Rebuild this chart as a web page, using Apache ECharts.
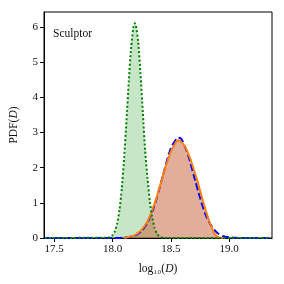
<!DOCTYPE html>
<html><head><meta charset="utf-8">
<script src="https://cdn.jsdelivr.net/npm/echarts@6/dist/echarts.min.js"></script>
<style>html,body{margin:0;padding:0;background:#fff}#c{width:284px;height:284px}</style>
</head><body><div id="c"></div>
<script>
var xTicks = [17.5, 18.0, 18.5, 19.0];
var yTicks = [0, 1, 2, 3, 4, 5, 6];
var label = 'Sculptor';

var greenX = [17.42, 17.96, 17.98, 18.00, 18.02, 18.04, 18.06, 18.08, 18.10, 18.12, 18.14, 18.16, 18.18, 18.19, 18.20, 18.22, 18.24, 18.26, 18.28, 18.30, 18.32, 18.34, 18.36, 18.38, 18.40, 18.42, 18.44, 19.35];
var greenY = [0, 0.01, 0.03, 0.08, 0.19, 0.41, 0.80, 1.42, 2.28, 3.35, 4.47, 5.43, 6.02, 6.11, 6.07, 5.59, 4.68, 3.57, 2.48, 1.70, 1.05, 0.60, 0.30, 0.13, 0.05, 0.02, 0, 0];

var blueX = [17.42, 18.05, 18.10, 18.15, 18.20, 18.25, 18.30, 18.35, 18.40, 18.45, 18.50, 18.55, 18.575, 18.60, 18.65, 18.70, 18.75, 18.80, 18.85, 18.90, 18.95, 19.00, 19.05, 19.10, 19.35];
var blueY = [0, 0, 0.01, 0.03, 0.08, 0.20, 0.44, 0.83, 1.38, 2.00, 2.55, 2.83, 2.85, 2.76, 2.35, 1.75, 1.15, 0.65, 0.33, 0.14, 0.05, 0.02, 0.005, 0, 0];

var orangeX = [18.10, 18.125, 18.15, 18.175, 18.20, 18.225, 18.25, 18.275, 18.30, 18.325, 18.35, 18.375, 18.40, 18.425, 18.45, 18.475, 18.50, 18.525, 18.55, 18.575, 18.60, 18.625, 18.65, 18.675, 18.70, 18.725, 18.75, 18.775, 18.80, 18.825, 18.85, 18.875, 18.90, 18.925, 18.95];
var orangeY = [0, 0.02, 0.04, 0.06, 0.10, 0.16, 0.24, 0.34, 0.48, 0.66, 0.88, 1.12, 1.40, 1.68, 1.98, 2.22, 2.46, 2.62, 2.75, 2.78, 2.70, 2.58, 2.40, 2.18, 1.92, 1.66, 1.36, 1.06, 0.78, 0.52, 0.30, 0.12, 0.04, 0.01, 0];

function pairs(xs, ys) { return xs.map(function (x, i) { return [x, ys[i]]; }); }

var FONT = 'Liberation Serif';
var chart = echarts.init(document.getElementById('c'), null, {renderer: 'canvas'});
chart.setOption({
  animation: false,
  grid: {left: 42, right: 12, top: 12, bottom: 46, show: true, borderColor: '#000', borderWidth: 1, backgroundColor: 'transparent'},
  xAxis: {
    type: 'value', min: 17.4124, max: 19.368,
    splitLine: {show: false},
    axisLine: {show: true, onZero: false, lineStyle: {color: '#000', width: 1}},
    axisTick: {show: true, length: 4, lineStyle: {color: '#000'}, customValues: xTicks},
    axisLabel: {color: '#111', fontFamily: FONT, fontSize: 11, margin: 6, customValues: xTicks,
      formatter: function (v) { return v.toFixed(1); }},
    name: '{n|log₁₀(}{i|D}{n|)}', nameLocation: 'middle', nameGap: 25,
    nameTextStyle: {rich: {
      n: {fontFamily: FONT, fontSize: 11.5, color: '#111'},
      i: {fontFamily: FONT, fontSize: 11.5, fontStyle: 'italic', color: '#111'}
    }}
  },
  yAxis: {
    type: 'value', min: 0, max: 6.43,
    splitLine: {show: false},
    axisLine: {show: true, lineStyle: {color: '#000', width: 1}},
    axisTick: {show: true, length: 4, lineStyle: {color: '#000'}, customValues: yTicks},
    axisLabel: {color: '#111', fontFamily: FONT, fontSize: 11, margin: 6, customValues: yTicks},
    name: '{n|PDF(}{i|D}{n|)}', nameLocation: 'middle', nameGap: 24, nameRotate: 90,
    nameTextStyle: {rich: {
      n: {fontFamily: FONT, fontSize: 11.5, color: '#111'},
      i: {fontFamily: FONT, fontSize: 11.5, fontStyle: 'italic', color: '#111'}
    }}
  },
  graphic: [{
    type: 'text', left: 53, top: 28,
    style: {text: label, font: '11.5px "Liberation Serif"', fill: '#111'}
  }],
  series: [
    {type: 'line', data: pairs(greenX, greenY), symbol: 'none', smooth: 0.2,
      lineStyle: {width: 0}, areaStyle: {color: 'rgba(44,160,44,0.38)', origin: 0}, z: 1},
    {type: 'line', data: pairs(orangeX, orangeY), symbol: 'none', smooth: 0.2,
      lineStyle: {width: 0}, areaStyle: {color: 'rgba(195,85,40,0.68)', origin: 0}, z: 2},
    {type: 'line', data: pairs(blueX, blueY), symbol: 'none', smooth: 0.2,
      lineStyle: {color: '#0000ff', width: 2, type: [7, 3]}, z: 3},
    {type: 'line', data: pairs(orangeX, orangeY), symbol: 'none', smooth: 0.2,
      lineStyle: {color: '#ff7f0e', width: 2}, z: 4},
    {type: 'line', data: pairs(greenX, greenY), symbol: 'none', smooth: 0.2,
      lineStyle: {color: '#008000', width: 2, type: [2, 2.2]}, z: 5}
  ]
});
</script></body></html>
